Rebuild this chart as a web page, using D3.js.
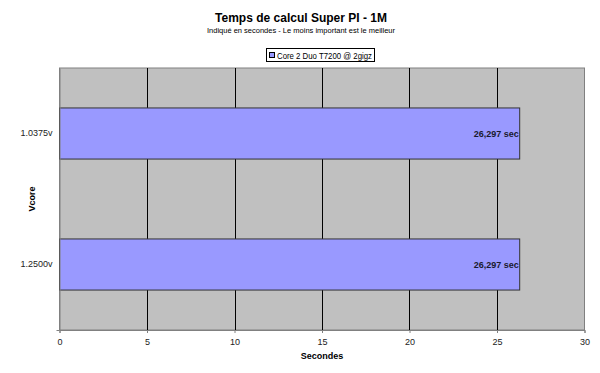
<!DOCTYPE html>
<html>
<head>
<meta charset="utf-8">
<script src="https://cdn.jsdelivr.net/npm/d3@7"></script>
<style>
body { margin: 0; background: #fff; }
svg { display: block; font-family: "Liberation Sans", Arial, sans-serif; }
</style>
</head>
<body>
<div id="chart"></div>
<script>
// data
var categories = ["1.0375v", "1.2500v"];
var values = [26.297, 26.297];
var valueLabels = ["26,297 sec", "26,297 sec"];
var xTicks = [0, 5, 10, 15, 20, 25, 30];
var seriesName = "Core 2 Duo T7200 @ 2gigz";

var width = 600, height = 373;
var plot = { left: 59.5, right: 584.5, top: 68, bottom: 330 };

var svg = d3.select("#chart").append("svg")
	.attr("width", width)
	.attr("height", height);

var x = d3.scaleLinear().domain([0, 30]).range([plot.left, plot.right]);
var y = d3.scaleBand().domain(categories).range([plot.top, plot.bottom]).paddingInner(0.61).paddingOuter(0.305);

// plot background
svg.append("rect")
	.attr("x", plot.left).attr("y", plot.top)
	.attr("width", plot.right - plot.left).attr("height", plot.bottom - plot.top)
	.style("fill", "#c0c0c0")
	.style("stroke", "#808080")
	.style("stroke-width", 1);

// gridlines
svg.append("g").selectAll("line")
	.data(xTicks.slice(1, -1))
	.enter().append("line")
	.attr("x1", function (d) { return Math.round(x(d)) + 0.5; })
	.attr("x2", function (d) { return Math.round(x(d)) + 0.5; })
	.attr("y1", plot.top).attr("y2", plot.bottom)
	.style("stroke", "#000")
	.style("stroke-width", 1);

// bars
svg.append("g").selectAll("rect")
	.data(values)
	.enter().append("rect")
	.attr("x", x(0))
	.attr("y", function (d, i) { return y(categories[i]); })
	.attr("width", function (d) { return x(d) - x(0); })
	.attr("height", y.bandwidth())
	.style("fill", "#9999ff")
	.style("stroke", "#333")
	.style("stroke-width", 1);

// value labels
svg.append("g").selectAll("text")
	.data(valueLabels)
	.enter().append("text")
	.attr("x", function (d, i) { return x(values[i]) - 1; })
	.attr("y", function (d, i) { return y(categories[i]) + y.bandwidth() / 2 + 3; })
	.attr("text-anchor", "end")
	.style("font-size", "9px")
	.style("font-weight", "bold")
	.style("fill", "#1a1a2e")
	.text(function (d) { return d; });

// x axis
var xAxis = svg.append("g")
	.attr("transform", "translate(0," + plot.bottom + ")")
	.call(d3.axisBottom(x).tickValues(xTicks).tickSize(3).tickPadding(6));
xAxis.select(".domain").style("stroke", "#808080");
xAxis.selectAll(".tick line").style("stroke", "#808080");
xAxis.selectAll("text").style("font-size", "9px").style("fill", "#222").style("font-family", "Liberation Sans, Arial, sans-serif");

// y axis
var yAxis = svg.append("g")
	.attr("transform", "translate(" + plot.left + ",0)")
	.call(d3.axisLeft(y).tickSize(0).tickPadding(7));
yAxis.select(".domain").style("stroke", "#808080");
yAxis.selectAll("text").style("font-size", "9px").style("fill", "#222").style("font-family", "Liberation Sans, Arial, sans-serif");
svg.append("line")
	.attr("x1", plot.left - 3).attr("x2", plot.left)
	.attr("y1", plot.bottom + 0.5).attr("y2", plot.bottom + 0.5)
	.style("stroke", "#808080");

// axis titles
svg.append("text")
	.attr("x", (plot.left + plot.right) / 2).attr("y", 359)
	.attr("text-anchor", "middle")
	.style("font-size", "9px").style("font-weight", "bold")
	.text("Secondes");

svg.append("text")
	.attr("transform", "translate(35," + ((plot.top + plot.bottom) / 2) + ") rotate(-90)")
	.attr("text-anchor", "middle")
	.style("font-size", "9px").style("font-weight", "bold")
	.text("Vcore");

// titles
svg.append("text")
	.attr("x", 301).attr("y", 22)
	.attr("text-anchor", "middle")
	.style("font-size", "12px").style("font-weight", "bold")
	.text("Temps de calcul Super PI - 1M");

svg.append("text")
	.attr("x", 301).attr("y", 33)
	.attr("text-anchor", "middle")
	.style("font-size", "7.5px")
	.text("Indiqué en secondes - Le moins important est le meilleur");

// legend
var legend = svg.append("g");
legend.append("rect")
	.attr("x", 266.5).attr("y", 48.5).attr("width", 108).attr("height", 13)
	.style("fill", "#fff").style("stroke", "#000");
legend.append("rect")
	.attr("x", 269.5).attr("y", 52.5).attr("width", 5).attr("height", 5)
	.style("fill", "#9999ff").style("stroke", "#000");
legend.append("text")
	.attr("x", 277).attr("y", 58.5)
	.attr("textLength", 95)
	.attr("lengthAdjust", "spacingAndGlyphs")
	.style("font-size", "8.5px")
	.text(seriesName);
</script>
</body>
</html>
